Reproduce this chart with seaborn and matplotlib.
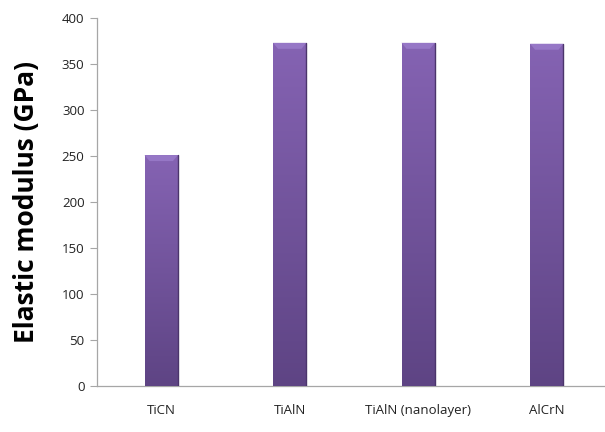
import numpy as np
import matplotlib
matplotlib.use("Agg")
import matplotlib.pyplot as plt
import seaborn as sns
import pandas as pd
from matplotlib.colors import LinearSegmentedColormap

coatings = ["TiCN", "TiAlN", "TiAlN (nanolayer)", "AlCrN"]
modulus = [251, 373, 373, 372]
y_ticks = [0, 50, 100, 150, 200, 250, 300, 350, 400]

df = pd.DataFrame({"coating": coatings, "modulus": modulus})

sns.set_style("white")
plt.rcParams["font.family"] = ["Open Sans", "DejaVu Sans"]

fig = plt.figure(figsize=(6.05, 4.32), dpi=100)
ax = fig.add_axes([97 / 605, 1 - 386 / 432, 514 / 605, 368 / 432])

sns.barplot(data=df, x="coating", y="modulus", color="#7658a3",
            width=0.26, saturation=1, ax=ax, zorder=2)

# vertical shading on each bar, clipped to the bar outline
shade = LinearSegmentedColormap.from_list("shade", ["#8563b3", "#5e4484"])
grad = np.linspace(0, 1, 256).reshape(-1, 1)
for p in list(ax.patches):
    x0, y0 = p.get_x(), p.get_y()
    w, h = p.get_width(), p.get_height()
    im = ax.imshow(grad, cmap=shade, aspect="auto",
                   extent=[x0, x0 + w, y0, y0 + h], zorder=3)
    im.set_clip_path(p)
    # bevelled top cap
    cap = 6.5
    ax.fill([x0, x0 + w, x0 + w * 0.85, x0 + w * 0.15],
            [y0 + h, y0 + h, y0 + h - cap, y0 + h - cap],
            color="#9677c6", zorder=4, lw=0)
    ax.plot([x0 + w, x0 + w], [y0, y0 + h], color="#4b356b", lw=1.0, zorder=4)

ax.set_xlim(-0.5, 3.5)
ax.set_ylim(0, 400)
ax.set_yticks(y_ticks)
ax.set_yticklabels([str(v) for v in y_ticks], fontsize=9.5, color="#222222")
ax.tick_params(axis="x", length=0, pad=13, labelsize=9.5, labelcolor="#222222")
ax.tick_params(axis="y", length=5, width=0.8, color="#a6a6a6", left=True, pad=4)
ax.set_xlabel("")
ax.set_ylabel("Elastic modulus (GPa)", fontsize=19, fontweight="bold",
              labelpad=16, color="black")

for side in ("top", "right"):
    ax.spines[side].set_visible(False)
for side in ("left", "bottom"):
    ax.spines[side].set_color("#a6a6a6")
    ax.spines[side].set_linewidth(0.9)

fig.savefig("out.png", dpi=100)
